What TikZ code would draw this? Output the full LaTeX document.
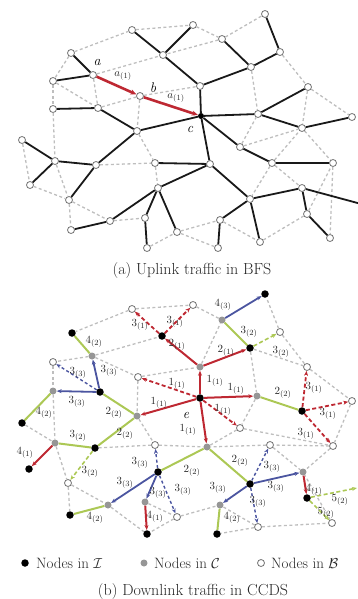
\documentclass[tikz,border=0pt]{standalone}
\usetikzlibrary{arrows.meta}
\definecolor{rE}{RGB}{190,40,50}
\definecolor{gE}{RGB}{172,200,85}
\definecolor{bE}{RGB}{75,85,160}
\definecolor{mG}{RGB}{190,190,190}
\definecolor{nG}{RGB}{150,150,150}
\begin{document}
\begin{tikzpicture}[x=1pt,y=-1pt,
 on/.style={circle,draw=black!55,fill=white,line width=0.8pt,inner sep=0pt,minimum size=7pt},
 bn/.style={circle,fill=black,inner sep=0pt,minimum size=7.5pt},
 gn/.style={circle,fill=nG,inner sep=0pt,minimum size=7pt},
 mesh/.style={mG,line width=1.3pt,dash pattern=on 3pt off 2.5pt},
 tree/.style={line width=1.8pt,black!90},
 arrtip/.style={-{Stealth[length=5pt,width=4pt]}},
 rs/.style={rE,line width=2pt,arrtip},
 rd/.style={rE,line width=1.8pt,dash pattern=on 4pt off 2.5pt,arrtip},
 gs/.style={gE,line width=2pt},
 gd/.style={gE,line width=1.6pt,dash pattern=on 4pt off 2.5pt,arrtip},
 bs/.style={bE,line width=1.8pt,arrtip},
 bd/.style={bE,line width=1.4pt,dash pattern=on 3pt off 2.5pt,arrtip},
 lbl/.style={font=\fontsize{11}{13}\selectfont,inner sep=0pt,text=black!85},
 captxt/.style={font=\fontsize{16}{19}\selectfont,inner sep=0pt,text=black!85},
 legtxt/.style={font=\fontsize{15}{18}\selectfont,inner sep=0pt,text=black!85},
]
\useasboundingbox (0,0) rectangle (357,599);
% ---------------- (a) ----------------
\foreach \n/\x/\y in {n1/265/14, n2/132/30, n3/193/25, n4/222/39, n5/280/52, n6/163/55, n7/251/67, n8/71/53, a/93/75, n10/53/81, n11/200/86, n12/308/87, b/140/96, n14/53/109, n15/98/108, n17/258/114, n18/302/128, n19/137/131, n20/240/147, n21/55/161, n22/96/165, n23/155/163, n24/210/164, n25/272/163, n26/30/185, n27/158/188, n28/69/200, n29/302/188, n30/250/199, n31/110/221, n32/145/218, n33/220/220, n34/307/214, n35/71/230, n36/177/232, n37/147/248, n38/333/163, n39/352/117, n40/218/248, n41/260/242, n42/330/238, n43/22/140}
  \node[on] (\n) at (\x,\y) {};
\node[bn,minimum size=6pt] (c) at (201,116) {};
\coordinate (n44) at (365,205);
\foreach \u/\v in {n2/n3, n3/n4, n4/n1, n4/n6, n8/n2, n8/n10, a/n6, n10/n14, n10/n15, a/n15, n15/b, b/n11, b/n19, n14/n21, n43/n26, n7/n17, n5/n12, n12/n18, n12/n39, n19/n23, n22/n23, n23/n27, n20/n17, n20/n18, n25/n18, n18/n38, n21/n28, n28/n31, n31/n32, n36/n33, n25/n29, n33/n41, n41/n34, n40/n36, n37/n36, n28/n35, n38/n42, n26/n28, n25/n30, n34/n38}
  \draw[mesh] (\u) -- (\v);
\foreach \u/\v in {n1/n5, n5/n7, n4/n7, n7/n11, n2/n6, n3/n6, n6/n11, n11/c, n8/a, n10/a, n14/n15, n15/n19, n19/c, c/n17, n17/n12, n17/n18, n18/n39, c/n20, n20/n25, n25/n38, c/n24, n24/n27, n24/n30, n27/n31, n27/n32, n27/n36, n32/n37, n31/n35, n21/n22, n21/n26, n21/n43, n22/n28, n22/n19, n23/n24, n30/n33, n33/n40, n30/n41, n30/n29, n29/n34, n34/n42, n29/n44}
  \draw[tree] (\u) -- (\v);
\draw[rE,line width=2.6pt,-{Stealth[length=6pt,width=5pt]}] (a) -- (b);
\draw[rE,line width=2.6pt,-{Stealth[length=6pt,width=5pt]}] (b) -- (c);
\node[font=\fontsize{14}{16}\selectfont\itshape,inner sep=0pt] (ta) at (97,62) {a};
\node[font=\fontsize{14}{16}\selectfont\itshape,inner sep=0pt] (tb) at (153,88) {b};
\node[font=\fontsize{14}{16}\selectfont\itshape,inner sep=0pt] (tc) at (190,129) {c};
\node[lbl] (ta1) at (123,76) {$a_{(1)}$};
\node[lbl] (ta2) at (176,98) {$a_{(1)}$};
\node[captxt] (capa) at (192,271) {(a) Uplink traffic in BFS};
% ---------------- (b) ----------------
\foreach \n/\x/\y in {B1/265/294, B2/162/336, B3/72/333, B4/250/348, B5/100/392, B6/22/423, e/200/398, B7/302/411, B8/95/448, B9/29/469, B10/158/472, B11/250/484, B12/307/498, B13/70/515, B14/147/534, B15/217/534}
  \node[bn] (\n) at (\x,\y) {};
\foreach \n/\x/\y in {G1/222/320, G2/200/367, G3/92/356, G4/53/391, G5/137/416, G6/257/396, G7/207/447, G8/55/443, G9/108/505, G10/145/502, G11/303/472, G12/220/505}
  \node[gn] (\n) at (\x,\y) {};
\foreach \n/\x/\y in {O1/132/309, O2/193/305, O3/280/332, O4/53/362, O5/138/377, O6/307/367, O7/352/401, O8/240/428, O9/333/446, O10/155/445, O11/270/445, O12/68/483, O13/177/517, O14/258/527, O15/332/523}
  \node[on] (\n) at (\x,\y) {};
\coordinate (R1) at (357,488);
\foreach \u/\v in {O1/O2, O2/G1, O1/B3, G3/B2, G3/O4, O4/G4, G4/G8, B6/G8, G3/O5, O5/G5, O5/G2, G2/G1, O3/B1, O3/O6, B4/G6, B4/O6, G6/O8, O8/G7, O8/O9, O9/O11, O6/O7, O7/O9, O9/G11, O11/G7, O11/G11, G5/O10, O10/G7, O10/B8, G8/O12, O12/G9, O12/B13, G10/O13, O13/B14, O13/G12, G9/B14, O14/G12, O14/B15, O14/O15, O15/G11}
  \draw[mesh] (\u) -- (\v);
\foreach \u/\v in {G1/B4, G6/B7, G3/B3, G5/B5, G4/B6, G5/B8, G8/B8, G7/B10, G7/B11, G9/B13, G12/B15}
  \draw[gs] (\u) -- (\v);
\foreach \u/\v in {B4/O3, B8/O12, B12/O15, B12/R1}
  \draw[gd] (\u) -- (\v);
\foreach \u/\v in {G1/B1, B5/G3, B5/G4, B10/G9, B10/G10, B11/G11, B11/G12}
  \draw[bs] (\u) -- (\v);
\foreach \u/\v in {B5/O4, B10/O10, B10/O13, B11/O11, B11/O14}
  \draw[bd] (\u) -- (\v);
\foreach \u/\v in {G2/B2, G2/B4, e/G2, e/G6, e/G5, e/G7, G8/B9, G10/B14, G11/B12}
  \draw[rs] (\u) -- (\v);
\foreach \u/\v in {e/O5, e/O8, B2/O1, B2/O2, B7/O6, B7/O7, B7/O9}
  \draw[rd] (\u) -- (\v);
\node[font=\fontsize{14}{16}\selectfont\itshape,inner sep=0pt] (te) at (186,415) {e};
\foreach \x/\y/\t [count=\i] in {177/345/2_{(1)}, 226/351/2_{(1)}, 215/381/1_{(1)}, 236/389/1_{(1)}, 159/403/1_{(1)}, 188/430/1_{(1)}, 177/384/1_{(1)}, 223/410/1_{(1)}, 140/325/3_{(1)}, 175/322/3_{(1)}, 223/305/4_{(3)}, 249/332/3_{(2)}, 281/352/3_{(2)}, 283/393/2_{(2)}, 314/388/3_{(1)}, 328/414/3_{(1)}, 306/434/3_{(1)}, 94/342/4_{(2)}, 109/371/3_{(3)}, 78/373/3_{(3)}, 77/402/3_{(3)}, 44/413/4_{(2)}, 114/413/2_{(2)}, 125/434/2_{(2)}, 78/436/3_{(2)}, 25/453/4_{(1)}, 90/472/3_{(2)}, 140/463/3_{(3)}, 192/471/2_{(2)}, 240/461/2_{(2)}, 125/483/3_{(3)}, 158/493/3_{(3)}, 183/490/3_{(3)}, 95/518/4_{(2)}, 155/517/4_{(1)}, 218/488/3_{(3)}, 232/518/4_{(2)}, 272/467/3_{(3)}, 276/487/3_{(3)}, 258/502/3_{(3)}, 314/490/4_{(1)}, 340/500/5_{(2)}, 326/513/5_{(2)}}
  \node[lbl] (L\i) at (\x,\y) {$\t$};
% legend
\node[bn] (k1) at (25,563) {};
\node[legtxt,anchor=west] (k1t) at (36,563) {Nodes in $\mathcal{I}$};
\node[gn] (k2) at (144,563) {};
\node[legtxt,anchor=west] (k2t) at (154,563) {Nodes in $\mathcal{C}$};
\node[on] (k3) at (261,563) {};
\node[legtxt,anchor=west] (k3t) at (271,563) {Nodes in $\mathcal{B}$};
\node[captxt] (capb) at (193,592) {(b) Downlink traffic in CCDS};
\end{tikzpicture}
\end{document}
